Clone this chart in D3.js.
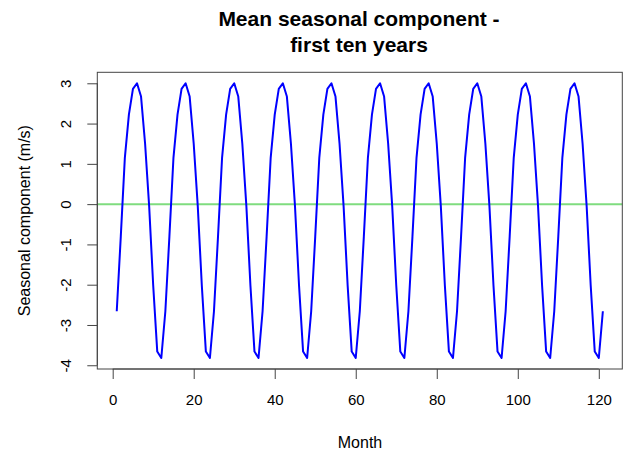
<!DOCTYPE html>
<html>
<head>
<meta charset="utf-8">
<script src="https://cdnjs.cloudflare.com/ajax/libs/d3/7.8.5/d3.min.js"></script>
<style>
  body { margin: 0; background: #fff; }
  text { font-family: "Liberation Sans", Arial, Helvetica, sans-serif; fill: #000; }
</style>
</head>
<body>
<script>
var w = 627;
var h = 455;

// mean seasonal pattern, Jan..Dec (m/s)
var seasonal = [-2.66, -0.80, 1.15, 2.22, 2.86, 3.00, 2.67, 1.50, -0.05, -2.02, -3.66, -3.82];
// months 1..121 (ten years + one month)
var months = d3.range(1, 122);
var xTicks = [0, 20, 40, 60, 80, 100, 120];
var yTicks = [-4, -3, -2, -1, 0, 1, 2, 3];

var series = months.map(function(m) {
    return [m, seasonal[(m - 1) % 12]];
});

var plotLeft = 97.3, plotRight = 622.3, plotTop = 72.3, plotBottom = 369;

// R style 4% axis extension
var xr = [1, 121];
var xe = (xr[1] - xr[0]) * 0.04;
var yr = d3.extent(seasonal);
var ye = (yr[1] - yr[0]) * 0.04;

var xScale = d3.scaleLinear()
    .domain([xr[0] - xe, xr[1] + xe])
    .range([plotLeft, plotRight]);

var yScale = d3.scaleLinear()
    .domain([yr[0] - ye, yr[1] + ye])
    .range([plotBottom, plotTop]);

var svg = d3.select("body")
    .append("svg")
    .attr("width", w)
    .attr("height", h);

// zero line
svg.append("line")
    .attr("x1", plotLeft)
    .attr("x2", plotRight)
    .attr("y1", yScale(0))
    .attr("y2", yScale(0))
    .attr("stroke", "#7fdc7f")
    .attr("stroke-width", 2);

var line = d3.line()
    .x(function(d) { return xScale(d[0]); })
    .y(function(d) { return yScale(d[1]); });

svg.append("path")
    .datum(series)
    .attr("d", line)
    .attr("fill", "none")
    .attr("stroke", "#0000ff")
    .attr("stroke-width", 2)
    .attr("stroke-linejoin", "round");

// box
svg.append("rect")
    .attr("x", plotLeft)
    .attr("y", plotTop)
    .attr("width", plotRight - plotLeft)
    .attr("height", plotBottom - plotTop)
    .attr("fill", "none")
    .attr("stroke", "#444")
    .attr("stroke-width", 1);

var xAxis = d3.axisBottom(xScale)
    .tickValues(xTicks)
    .tickSizeInner(10)
    .tickSizeOuter(0)
    .tickPadding(15);

var gx = svg.append("g")
    .attr("transform", "translate(0," + plotBottom + ")")
    .call(xAxis);
gx.select(".domain")
    .attr("d", "M" + xScale(0) + ",0H" + xScale(120))
    .attr("stroke", "#444");
gx.selectAll(".tick line").attr("stroke", "#444");
gx.selectAll("text")
    .style("font-size", "15px")
    .style("font-family", "Liberation Sans, Arial, sans-serif")
    .attr("fill", "#111");

var yAxis = d3.axisLeft(yScale)
    .tickValues(yTicks)
    .tickSizeInner(10)
    .tickSizeOuter(0)
    .tickFormat(function(d) { return String(d); });

var gy = svg.append("g")
    .attr("transform", "translate(" + plotLeft + ",0)")
    .call(yAxis);
gy.select(".domain")
    .attr("d", "M0," + yScale(-4) + "V" + yScale(3))
    .attr("stroke", "#444");
gy.selectAll(".tick line").attr("stroke", "#444");
gy.selectAll("text")
    .attr("x", null)
    .attr("dy", null)
    .attr("text-anchor", "middle")
    .attr("transform", "translate(-26,0) rotate(-90)")
    .style("font-size", "15px")
    .style("font-family", "Liberation Sans, Arial, sans-serif")
    .attr("fill", "#111");

// title
svg.append("text")
    .attr("text-anchor", "middle")
    .attr("x", 359)
    .attr("y", 26)
    .text("Mean seasonal component -")
    .style("font-size", "21px")
    .style("font-weight", "bold");

svg.append("text")
    .attr("text-anchor", "middle")
    .attr("x", 359)
    .attr("y", 52)
    .text("first ten years")
    .style("font-size", "21px")
    .style("font-weight", "bold");

// X axis label
svg.append("text")
    .attr("text-anchor", "middle")
    .attr("x", 360)
    .attr("y", 448)
    .text("Month")
    .style("font-size", "16px");

// Y axis label
svg.append("text")
    .attr("text-anchor", "middle")
    .attr("transform", "rotate(-90)")
    .attr("x", -(plotTop + plotBottom) / 2)
    .attr("y", 29.5)
    .text("Seasonal component (m/s)")
    .style("font-size", "16px");
</script>
</body>
</html>
